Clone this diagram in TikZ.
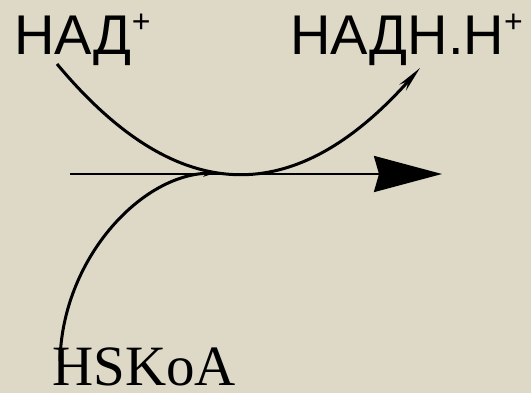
\documentclass[tikz,border=0pt]{standalone}
\usepackage{fontspec}
\setmainfont{Liberation Serif}
\newfontfamily\arialfont{Liberation Sans}
\usetikzlibrary{arrows.meta}
\definecolor{paper}{RGB}{222,217,199}
\newcommand{\plussign}{\raisebox{22pt}{\fontsize{32}{32}\selectfont+}}
\begin{document}
\begin{tikzpicture}[x=1pt,y=-1pt]
\fill[paper] (0,0) rectangle (531,393);
\useasboundingbox (0,0) rectangle (531,393);

\node[anchor=base west,inner sep=0] (nad) at (14,55) {\arialfont\fontsize{56}{60}\selectfont НАД\plussign};
\node[anchor=base west,inner sep=0] (nadh) at (290,55) {\arialfont\fontsize{56}{60}\selectfont НАДН.Н\plussign};
\node[anchor=base west,inner sep=0] (hskoa) at (52,385) {\fontsize{57}{60}\selectfont HSKoA};

\coordinate (left) at (70,174);
\coordinate (right) at (442,174);
\coordinate (join) at (215,173);

\draw[line width=2.5pt,-{Stealth[length=68pt,width=36pt,inset=5pt]}] (left) -- (right);

\draw[line width=3pt,-{Stealth[length=26pt,width=9pt]}] ([shift={(43,9)}]nad.base west)
  .. controls (178,209) and (295,209) .. ([shift={(130,13)}]nadh.base west);

\draw[line width=3pt,-{Stealth[length=12pt,width=7pt]}] ([shift={(8,-24)}]hskoa.base west)
  .. controls (62,260) and (140,175) .. (join);
\end{tikzpicture}
\end{document}
